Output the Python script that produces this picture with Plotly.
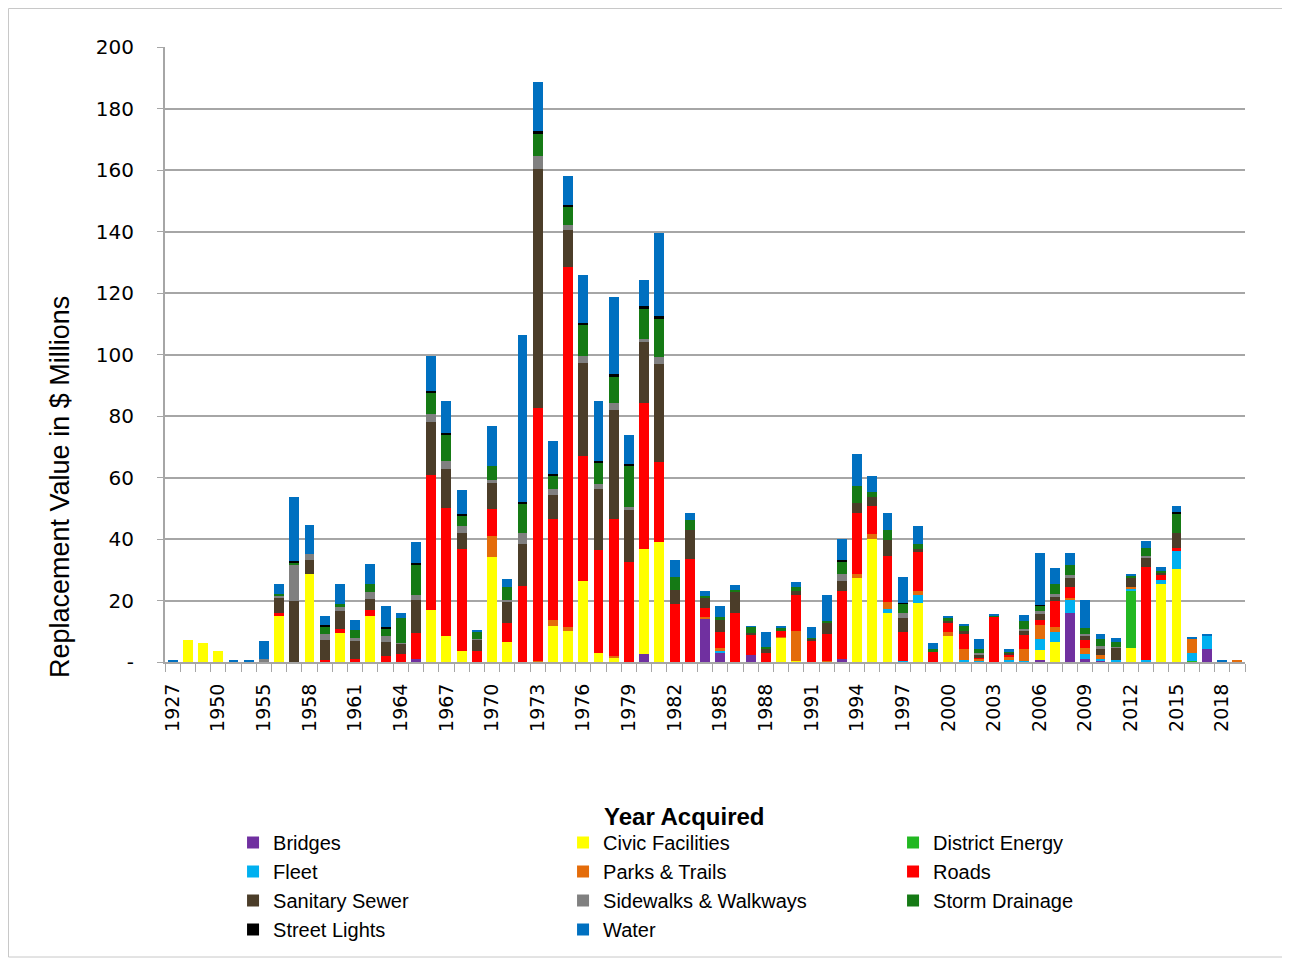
import plotly.graph_objects as go

years = ["1927", "1930", "1948", "1950", "1952", "1953",
         "1955", "1956", "1957", "1958", "1959", "1960", "1961", "1962", "1963", "1964",
         "1965", "1966", "1967", "1968", "1969", "1970", "1971", "1972", "1973", "1974",
         "1975", "1976", "1977", "1978", "1979", "1980", "1981", "1982", "1983", "1984",
         "1985", "1986", "1987", "1988", "1989", "1990", "1991", "1992", "1993", "1994",
         "1995", "1996", "1997", "1998", "1999", "2000", "2001", "2002", "2003", "2004",
         "2005", "2006", "2007", "2008", "2009", "2010", "2011", "2012", "2013", "2014",
         "2015", "2016", "2017", "2018", "2019"]

bridges = [0, 0, 0, 0, 0, 0, 0, 0, 0, 0,
           0, 0, 0, 0, 0, 0, 1.1, 0, 0, 0,
           0, 0, 0, 0, 0, 0, 0, 0, 0, 0,
           0, 2.7, 0, 0, 0, 14.2, 3.0, 0, 2.3, 0,
           0, 0, 0, 0, 0.9, 0, 0, 0, 0, 0,
           0, 0, 0, 0, 0, 0, 0, 0.7, 0, 16.0,
           1.0, 0.3, 0, 0, 0, 0, 0, 0, 4.3, 0,
           0]
civic = [0, 7.3, 6.3, 3.6, 0, 0, 0, 14.9, 0, 28.7,
         0, 9.4, 0, 14.8, 0, 0, 0, 17.0, 8.5, 3.5,
         0, 34.1, 6.4, 0, 0, 11.8, 10.0, 26.2, 2.9, 1.6,
         0, 34.1, 38.9, 0, 0, 0, 0, 0, 0, 0,
         7.9, 0.3, 0, 0, 0, 27.3, 40.1, 16.0, 0, 19.2,
         0, 8.4, 0, 0, 0, 0, 0, 3.3, 6.4, 0,
         0, 0, 0, 4.5, 0, 25.4, 30.1, 0, 0, 0,
         0]
district = [0, 0, 0, 0, 0, 0, 0, 0, 0, 0,
            0, 0, 0, 0, 0, 0, 0, 0, 0, 0,
            0, 0, 0, 0, 0, 0, 0, 0, 0, 0,
            0, 0, 0, 0, 0, 0, 0, 0, 0, 0,
            0, 0, 0, 0, 0, 0, 0, 0, 0, 0,
            0, 0, 0, 0, 0, 0, 0, 0, 0, 0,
            0, 0, 0, 18.7, 0, 0, 0, 0.3, 0, 0,
            0]
fleet = [0, 0, 0, 0, 0, 0, 0, 0, 0, 0,
         0, 0, 0, 0, 0, 0, 0, 0, 0, 0,
         0, 0, 0, 0, 0, 0, 0, 0, 0, 0,
         0, 0, 0, 0, 0, 0, 0.8, 0, 0, 0,
         0, 0, 0, 0, 0, 0, 0, 1.3, 0.3, 2.5,
         0, 0, 0.8, 0.3, 0, 0.7, 0.3, 3.5, 3.4, 4.2,
         1.6, 0.8, 0.5, 0.6, 0.8, 1.3, 5.9, 2.7, 4.0, 0,
         0]
parks = [0, 0, 0, 0, 0, 0, 0, 0, 0, 0,
         0, 0, 0, 0, 0, 0, 0, 0, 0, 0,
         0, 6.8, 0, 0, 0.3, 1.8, 1.5, 0, 0, 0.2,
         0, 0, 0, 0, 0, 0.5, 0.6, 0, 0, 0,
         0.2, 9.8, 0, 0.2, 0, 1.2, 1.5, 2.3, 0, 1.5,
         0, 1.3, 3.5, 0.7, 0, 0.8, 4.0, 4.5, 1.6, 0.7,
         2.1, 1.3, 0, 0.7, 0, 0, 0, 4.6, 0, 0,
         0.4]
roads = [0, 0, 0, 0, 0, 0, 0, 1.0, 0, 0,
         0.8, 1.4, 1.1, 2.2, 1.8, 2.7, 8.3, 43.7, 41.7, 33.1,
         3.5, 9.0, 6.4, 24.8, 82.4, 32.9, 117.1, 40.8, 33.5, 44.7,
         32.4, 47.5, 26.2, 18.9, 33.6, 2.8, 5.4, 15.8, 6.7, 3.0,
         2.0, 11.8, 7.1, 8.8, 22.3, 20.0, 9.0, 14.8, 9.5, 12.5,
         3.2, 3.1, 4.9, 0.3, 14.7, 1.1, 4.5, 1.8, 8.4, 3.6,
         2.5, 0, 0, 0, 30.0, 1.7, 1.0, 0, 0, 0,
         0]
sanitary = [0, 0, 0, 0, 0, 0, 0, 5.0, 20.0, 4.5,
            6.2, 5.7, 5.6, 3.5, 4.7, 3.2, 10.8, 17.5, 12.6, 5.5,
            3.7, 8.6, 7.0, 13.6, 77.5, 7.8, 11.8, 30.3, 20.0, 35.4,
            17.0, 19.8, 31.7, 4.6, 9.4, 3.2, 4.0, 7.2, 0.5, 1.1,
            0, 1.1, 0.5, 3.8, 3.3, 3.2, 2.9, 5.2, 4.6, 1.1,
            0, 0.5, 1.0, 1.1, 0, 0.4, 1.5, 1.9, 1.3, 2.8,
            1.2, 1.9, 4.1, 3.1, 2.9, 0.8, 4.9, 0, 0, 0,
            0]
sidewalks = [0, 0, 0, 0, 0, 0, 1.0, 0.8, 11.7, 1.8,
             2.2, 1.3, 1.1, 2.2, 2.1, 0.3, 1.6, 2.5, 2.7, 2.1,
             0.2, 0.6, 0.4, 3.7, 4.2, 2.1, 1.7, 2.2, 1.4, 2.2,
             1.1, 0.8, 2.4, 0, 0, 0, 0, 0, 0, 0,
             0, 0, 0, 0, 2.1, 0, 0, 0, 1.4, 0,
             0, 0, 0, 0.5, 0, 0, 0.4, 0.9, 1.0, 1.0,
             0.7, 0.8, 0.4, 0, 0.9, 0, 0, 0, 0, 0,
             0]
storm = [0, 0, 0, 0, 0, 0, 0, 0.5, 0.4, 0,
         2.4, 1.1, 2.5, 2.7, 2.2, 8.1, 9.9, 6.8, 8.6, 3.5,
         2.3, 4.5, 4.2, 9.3, 7.2, 4.3, 6.0, 10.2, 7.1, 8.9,
         13.3, 10.2, 12.2, 4.1, 3.1, 0.7, 0.8, 0.4, 2.0, 0.8,
         1.0, 1.3, 0.3, 0.5, 4.2, 5.7, 1.7, 3.2, 3.1, 1.6,
         0.9, 1.0, 1.6, 1.3, 0.5, 0.4, 2.6, 1.8, 3.2, 3.3,
         1.8, 2.3, 1.5, 0.4, 2.5, 0.5, 6.2, 0, 0, 0,
         0]
streetlights = [0, 0, 0, 0, 0, 0, 0, 0, 0.9, 0,
                0.3, 0, 0, 0, 0.6, 0, 0.4, 0.6, 0.5, 0.4,
                0, 0, 0, 0.6, 1.1, 0.6, 0.6, 0.6, 0.5, 0.5,
                0.5, 0.6, 1.2, 0, 0, 0, 0, 0, 0, 0,
                0, 0, 0, 0, 0.3, 0, 0, 0, 0.3, 0,
                0, 0, 0, 0, 0, 0, 0, 0.2, 0, 0,
                0, 0, 0, 0, 0, 0, 0.8, 0, 0, 0,
                0]
water = [0.4, 0, 0, 0, 0.4, 0.4, 5.7, 3.2, 20.8, 9.4,
         2.9, 6.5, 3.2, 6.5, 6.7, 1.6, 7.0, 11.5, 10.2, 7.7,
         0.8, 13.3, 2.5, 54.2, 15.9, 10.6, 9.2, 15.6, 19.5, 25.1,
         9.4, 8.6, 26.9, 5.6, 2.5, 1.6, 3.5, 1.6, 0.2, 4.8,
         0.4, 1.8, 3.5, 8.6, 6.9, 10.3, 5.4, 5.6, 8.4, 5.9,
         2.2, 0.8, 0.5, 3.3, 0.5, 0.9, 1.9, 16.9, 5.4, 3.9,
         9.4, 1.8, 1.4, 0.4, 2.4, 1.3, 1.9, 0.5, 0.7, 0.4,
         0]

series_names = ["Bridges", "Civic Facilities", "District Energy", "Fleet", "Parks & Trails",
                "Roads", "Sanitary Sewer", "Sidewalks & Walkways", "Storm Drainage",
                "Street Lights", "Water"]
series_values = [bridges, civic, district, fleet, parks, roads, sanitary, sidewalks,
                 storm, streetlights, water]
series_colors = ["#7030A0", "#FFFF00", "#22B822", "#00B0F0", "#E46C0A", "#FF0000",
                 "#4B3D29", "#808080", "#157A15", "#000000", "#0070C0"]

y_ticks = [0, 20, 40, 60, 80, 100, 120, 140, 160, 180, 200]
y_ticktext = ["-"] + [str(v) for v in y_ticks[1:]]
x_ticktext = [y if i % 3 == 0 else "" for i, y in enumerate(years)]

fig = go.Figure()
for name, vals, col in zip(series_names, series_values, series_colors):
    fig.add_trace(go.Bar(x=years, y=vals, name=name, marker_color=col,
                         marker_line_width=0))

grid_col = "#A6A6A6"
legend_font = "Liberation Sans"
# the page puts the figure 8 px in from the top-left corner
fig.update_layout(
    barmode="stack",
    bargap=0.35,
    width=1282, height=950,
    margin=dict(l=157, r=45, t=39, b=296, autoexpand=False),
    paper_bgcolor="white", plot_bgcolor="white",
    font=dict(family="DejaVu Sans", color="black"),
    xaxis=dict(
        type="category", automargin=False,
        tickmode="array", tickvals=years, ticktext=x_ticktext,
        tickangle=-90, tickfont=dict(size=19, family="DejaVu Sans"),
        tickson="boundaries", ticks="outside", ticklen=8, tickcolor=grid_col,
        ticklabelstandoff=12,
        showline=True, linecolor=grid_col, linewidth=2,
        showgrid=False, range=[-0.5, 70.5],
    ),
    yaxis=dict(
        range=[0, 200], automargin=False,
        tickmode="array", tickvals=y_ticks, ticktext=y_ticktext,
        tickfont=dict(size=20, family="DejaVu Sans"),
        ticks="outside", ticklen=6, tickcolor=grid_col,
        showline=True, linecolor=grid_col, linewidth=2,
        showgrid=True, gridcolor=grid_col, gridwidth=2,
        zeroline=False, ticklabelstandoff=19,
    ),
    legend=dict(
        orientation="h", x=0.063, xanchor="left", y=(662 - 823) / 615, yanchor="top",
        entrywidth=285, entrywidthmode="pixels", traceorder="normal",
        font=dict(size=20, family=legend_font),
        tracegroupgap=0, itemsizing="constant",
    ),
    annotations=[
        dict(text="Replacement Value in $ Millions", textangle=-90,
             xref="paper", yref="paper", x=(60 - 165) / 1080, y=(662 - 487) / 615,
             xanchor="center", yanchor="middle",
             showarrow=False, font=dict(size=27, family="Liberation Sans")),
        dict(text="<b>Year Acquired</b>",
             xref="paper", yref="paper", x=(684 - 165) / 1080, y=(662 - 816) / 615,
             xanchor="center", yanchor="middle",
             showarrow=False, font=dict(size=24, family=legend_font)),
    ],
    shapes=[dict(type="rect", xref="paper", yref="paper",
                 x0=(8.5 - 165) / 1080, x1=(1289 - 165) / 1080,
                 y0=(662 - 957) / 615, y1=(662 - 8.5) / 615,
                 line=dict(color="#C8C8C8", width=1), layer="below")],
)

fig.write_html("out.html")
